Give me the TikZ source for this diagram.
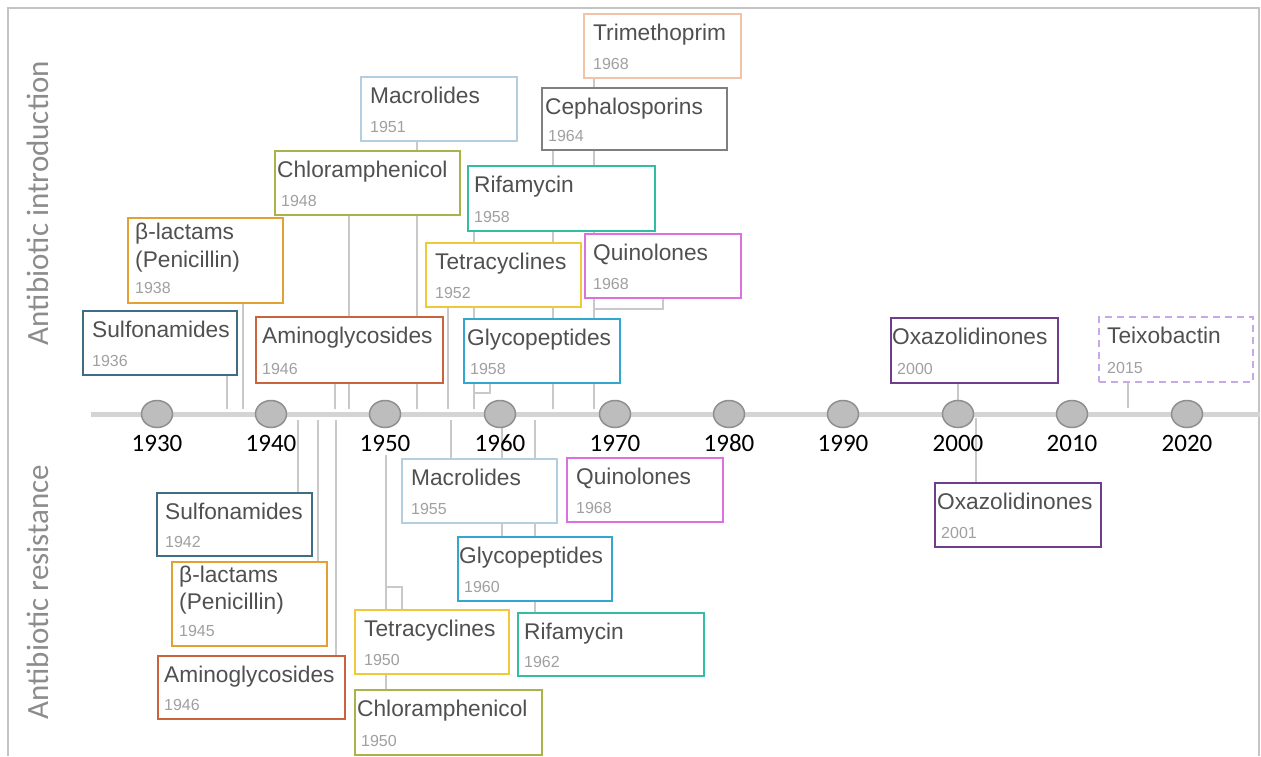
\documentclass[tikz,border=0pt]{standalone}
\usepackage{fontspec}
\setmainfont{Liberation Sans}
\newfontfamily\carl{Carlito}
\usetikzlibrary{calc,shapes.geometric}
\pgfdeclarelayer{bg}
\pgfsetlayers{bg,main}
\definecolor{cSul}{HTML}{3E6E85}
\definecolor{cBeta}{HTML}{E3A033}
\definecolor{cAmi}{HTML}{C8633C}
\definecolor{cChl}{HTML}{A8B44A}
\definecolor{cMac}{HTML}{B4CEDF}
\definecolor{cTri}{HTML}{F2C3A8}
\definecolor{cCep}{HTML}{7F7F7F}
\definecolor{cRif}{HTML}{33BDA3}
\definecolor{cTet}{HTML}{F0C93A}
\definecolor{cQui}{HTML}{D972E0}
\definecolor{cGly}{HTML}{33A8CF}
\definecolor{cOxa}{HTML}{6E3D8C}
\definecolor{cTei}{HTML}{C6A9E6}
\definecolor{ttlgray}{HTML}{505050}
\definecolor{yrgray}{HTML}{A0A0A0}
\definecolor{conngray}{HTML}{C9C9C9}
\definecolor{axisgray}{HTML}{D4D4D4}
\definecolor{dotfill}{HTML}{BDBDBD}
\definecolor{dotdraw}{HTML}{8F8F8F}
\definecolor{sidegray}{HTML}{8C8C8C}
\definecolor{framegray}{HTML}{C4C4C4}
\tikzset{
  boxsty/.style={rectangle, fill=white, line width=2.2pt, inner sep=0pt, anchor=north west},
  ttl/.style={inner sep=0pt, anchor=base west, text=ttlgray, font=\fontsize{22.7}{27}\selectfont},
  yr/.style={inner sep=0pt, anchor=base west, text=yrgray, font=\fontsize{16}{19}\selectfont},
  conn/.style={draw=conngray, line width=2pt},
  dot/.style={ellipse, minimum width=31pt, minimum height=27pt, inner sep=0pt, fill=dotfill, draw=dotdraw, line width=1.5pt},
  axlab/.style={inner sep=0pt, anchor=base, text=black, font=\carl\fontsize{25}{30}\selectfont},
  side/.style={inner sep=0pt, anchor=base, rotate=90, text=sidegray, font=\carl\fontsize{31}{36}\selectfont},
}
% name, style, x1, y1, x2, y2, text offset, title, year
\newcommand{\abox}[9]{%
  \node[boxsty,#2,minimum width={#5-#3},minimum height={#6-#4}] (#1) at (#3,#4) {};
  \node[ttl] (#1-t) at ($(#1.north west)+(#7,27)$) {#8};
  \node[yr] (#1-y) at ($(#1.south west)+({max(#7,7)},-10)$) {#9};
}
\begin{document}
\begin{tikzpicture}[x=1pt,y=-1pt]
\useasboundingbox (0,0) rectangle (1261,756);

% side labels
\node[side] (sideA) at (48,203) {Antibiotic introduction};
\node[side] (sideB) at (48,592) {Antibiotic resistance};

% decade dots and labels
\foreach \yy/\xx in {1930/157,1940/271,1950/385,1960/500,1970/615,1980/729,1990/843,2000/958,2010/1072,2020/1187}{
  \node[dot] (c\yy) at (\xx,414) {};
  \node[axlab] (l\yy) at (\xx,451) {\yy};
}

% ---- introduction boxes ----
\abox{tri1}{draw=cTri}{583}{13}{740}{77}{10}{Trimethoprim}{1968}
\abox{mac1}{draw=cMac}{360}{76}{516}{140}{10}{Macrolides}{1951}
\abox{cep1}{draw=cCep}{541}{87}{726}{149}{4}{Cephalosporins}{1964}
\abox{chl1}{draw=cChl}{274}{150}{459}{214}{3}{Chloramphenicol}{1948}
\abox{rif1}{draw=cRif}{467}{165}{654}{230}{7}{Rifamycin}{1958}
\node[boxsty,draw=cBeta,minimum width=155pt,minimum height=85pt] (beta1) at (127,217) {};
\node[ttl] (beta1-t) at ($(beta1.north west)+(8,22)$) {β-lactams};
\node[ttl] (beta1-u) at ($(beta1.north west)+(8,50)$) {(Penicillin)};
\node[yr] (beta1-y) at ($(beta1.south west)+(8,-11)$) {1938};
\abox{qui1}{draw=cQui}{584}{233}{740}{297}{9}{Quinolones}{1968}
\abox{tet1}{draw=cTet}{425}{242}{580}{306}{10}{Tetracyclines}{1952}
\abox{sul1}{draw=cSul}{82}{310}{236}{374}{10}{Sulfonamides}{1936}
\abox{ami1}{draw=cAmi}{255}{316}{442}{382}{7}{Aminoglycosides}{1946}
\abox{gly1}{draw=cGly}{463}{318}{619}{382}{4}{Glycopeptides}{1958}
\abox{oxa1}{draw=cOxa}{890}{317}{1057}{382}{2}{Oxazolidinones}{2000}
\abox{tei1}{draw=cTei,dashed,dash pattern=on 7pt off 5pt}{1098}{316}{1252}{381}{9}{Teixobactin}{2015}

% ---- resistance boxes ----
\abox{mac2}{draw=cMac}{401}{458}{556}{522}{10}{Macrolides}{1955}
\abox{qui2}{draw=cQui}{566}{457}{722}{521}{10}{Quinolones}{1968}
\abox{oxa2}{draw=cOxa}{934}{482}{1100}{546}{3}{Oxazolidinones}{2001}
\abox{sul2}{draw=cSul}{156}{492}{311}{555}{9}{Sulfonamides}{1942}
\abox{gly2}{draw=cGly}{457}{536}{611}{600}{2}{Glycopeptides}{1960}
\node[boxsty,draw=cBeta,minimum width=155pt,minimum height=84pt] (beta2) at (171,561) {};
\node[ttl] (beta2-t) at ($(beta2.north west)+(8,21)$) {β-lactams};
\node[ttl] (beta2-u) at ($(beta2.north west)+(8,48)$) {(Penicillin)};
\node[yr] (beta2-y) at ($(beta2.south west)+(8,-11)$) {1945};
\abox{tet2}{draw=cTet}{354}{609}{508}{673}{10}{Tetracyclines}{1950}
\abox{rif2}{draw=cRif}{517}{612}{703}{675}{7}{Rifamycin}{1962}
\abox{ami2}{draw=cAmi}{157}{655}{344}{718}{7}{Aminoglycosides}{1946}
\abox{chl2}{draw=cChl}{354}{689}{541}{754}{3}{Chloramphenicol}{1950}

% axis anchor points
\coordinate (axL) at (91,414);
\coordinate (axR) at (1260,414);
\coordinate (p-sul1) at (227,409);
\coordinate (p-beta1) at (243,409);
\coordinate (p-ami1) at (335,409);
\coordinate (p-chl1) at (349,409);
\coordinate (p-mac1) at (417,409);
\coordinate (p-tet1) at (448,409);
\coordinate (p-rif1) at (474,409);
\coordinate (p-cep1) at (553,409);
\coordinate (p-tri1) at (594,409);
\coordinate (p-tei1) at (1128,408);
\coordinate (j-gly1) at (474,393);
\coordinate (j-qui1) at (594,309);
\coordinate (p-sul2) at (298,420);
\coordinate (p-beta2) at (318,420);
\coordinate (p-ami2) at (336,420);
\coordinate (p-chl2) at (386,455);
\coordinate (j-tet2) at (386,587);
\coordinate (p-mac2) at (451,420);
\coordinate (p-gly2) at (502,420);
\coordinate (p-rif2) at (535,420);
\coordinate (p-oxa2) at (976,418);
\coordinate (fBL) at (8,756);
\coordinate (fTL) at (8,8);
\coordinate (fTR) at (1259,8);
\coordinate (fBR) at (1259,756);

\begin{pgfonlayer}{bg}
  \draw[framegray, line width=1.6pt] (fBL) -- (fTL) -- (fTR) -- (fBR);
  \draw[axisgray, line width=5pt] (axL) -- (axR);
  % introduction connectors
  \draw[conn] (sul1.south -| p-sul1) -- (p-sul1);
  \draw[conn] (beta1.south -| p-beta1) -- (p-beta1);
  \draw[conn] (ami1.south -| p-ami1) -- (p-ami1);
  \draw[conn] (chl1.south -| p-chl1) -- (p-chl1);
  \draw[conn] (mac1.south -| p-mac1) -- (p-mac1);
  \draw[conn] (tet1.south -| p-tet1) -- (p-tet1);
  \draw[conn] (rif1.south -| p-rif1) -- (p-rif1);
  \draw[conn] ($(gly1.south west)+(27,0)$) |- (j-gly1);
  \draw[conn] (cep1.south -| p-cep1) -- (p-cep1);
  \draw[conn] (tri1.south -| p-tri1) -- (p-tri1);
  \draw[conn] ($(qui1.south west)+(79,0)$) |- (j-qui1);
  \draw[conn] (oxa1.south -| c2000) -- (c2000.north);
  \draw[conn] (tei1.south -| p-tei1) -- (p-tei1);
  % resistance connectors
  \draw[conn] (p-sul2) -- (p-sul2 |- sul2.north);
  \draw[conn] (p-beta2) -- (p-beta2 |- beta2.north);
  \draw[conn] (p-ami2) -- (p-ami2 |- ami2.north);
  \draw[conn] (p-chl2) -- (p-chl2 |- chl2.north);
  \draw[conn] (j-tet2) -| ($(tet2.north west)+(48,0)$);
  \draw[conn] (p-mac2) -- (p-mac2 |- mac2.north);
  \draw[conn] (p-gly2) -- (p-gly2 |- gly2.north);
  \draw[conn] (p-rif2) -- (p-rif2 |- rif2.north);
  \draw[conn] (p-oxa2) -- (p-oxa2 |- oxa2.north);
\end{pgfonlayer}
\end{tikzpicture}
\end{document}
